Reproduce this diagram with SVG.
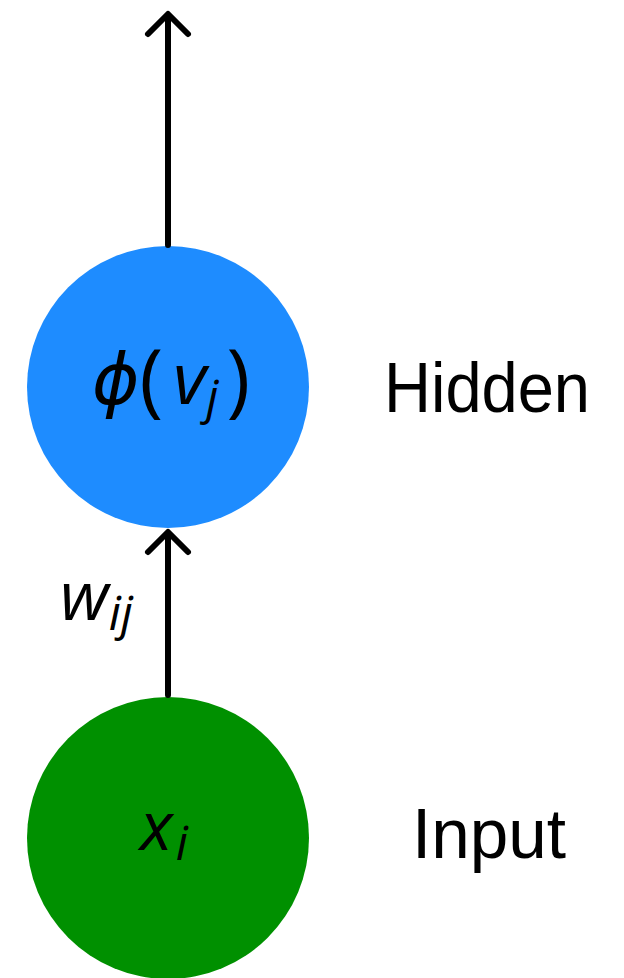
<svg xmlns="http://www.w3.org/2000/svg" width="624" height="978" viewBox="0 0 624 978">
<style>
.lbl{font-family:"Liberation Sans","DejaVu Sans",sans-serif;font-size:70px;fill:#000}
.math{font-family:"Open Sans","DejaVu Sans",sans-serif;font-style:italic;fill:#000}
.up{font-family:"Open Sans","DejaVu Sans",sans-serif;fill:#000}
.edge{stroke:#000;stroke-width:6;fill:none;stroke-linecap:round;stroke-linejoin:round}
</style>
<rect width="624" height="978" fill="#fff"/>
<g id="hidden">
<circle cx="168" cy="387" r="141" fill="#1E8CFF"/>
<text class="up" x="92" y="404" font-size="72"><tspan class="math">ϕ</tspan><tspan font-size="80" dy="3">(</tspan><tspan class="math" dx="10" dy="-3">v</tspan><tspan class="math" font-size="48" dy="10">j</tspan><tspan dy="-7" dx="8" font-size="80">)</tspan></text>
<text class="lbl" x="384" y="412" textLength="206" lengthAdjust="spacingAndGlyphs">Hidden</text>
</g>
<g id="input">
<circle cx="168" cy="838" r="141" fill="#009000"/>
<text class="math" x="140" y="850" font-size="68">x<tspan font-size="48" dy="10" dx="3">i</tspan></text>
<text class="lbl" x="412" y="858" textLength="154" lengthAdjust="spacingAndGlyphs">Input</text>
</g>
<g id="connectors">
<path class="edge" d="M168 245 V16 M148 34 L168 14 L188 34"/>
<path class="edge" d="M168 695 V534 M148 552 L168 532 L188 552"/>
<text class="math" x="60" y="620" font-size="68">w<tspan font-size="48" dy="10">ij</tspan></text>
</g>
</svg>
